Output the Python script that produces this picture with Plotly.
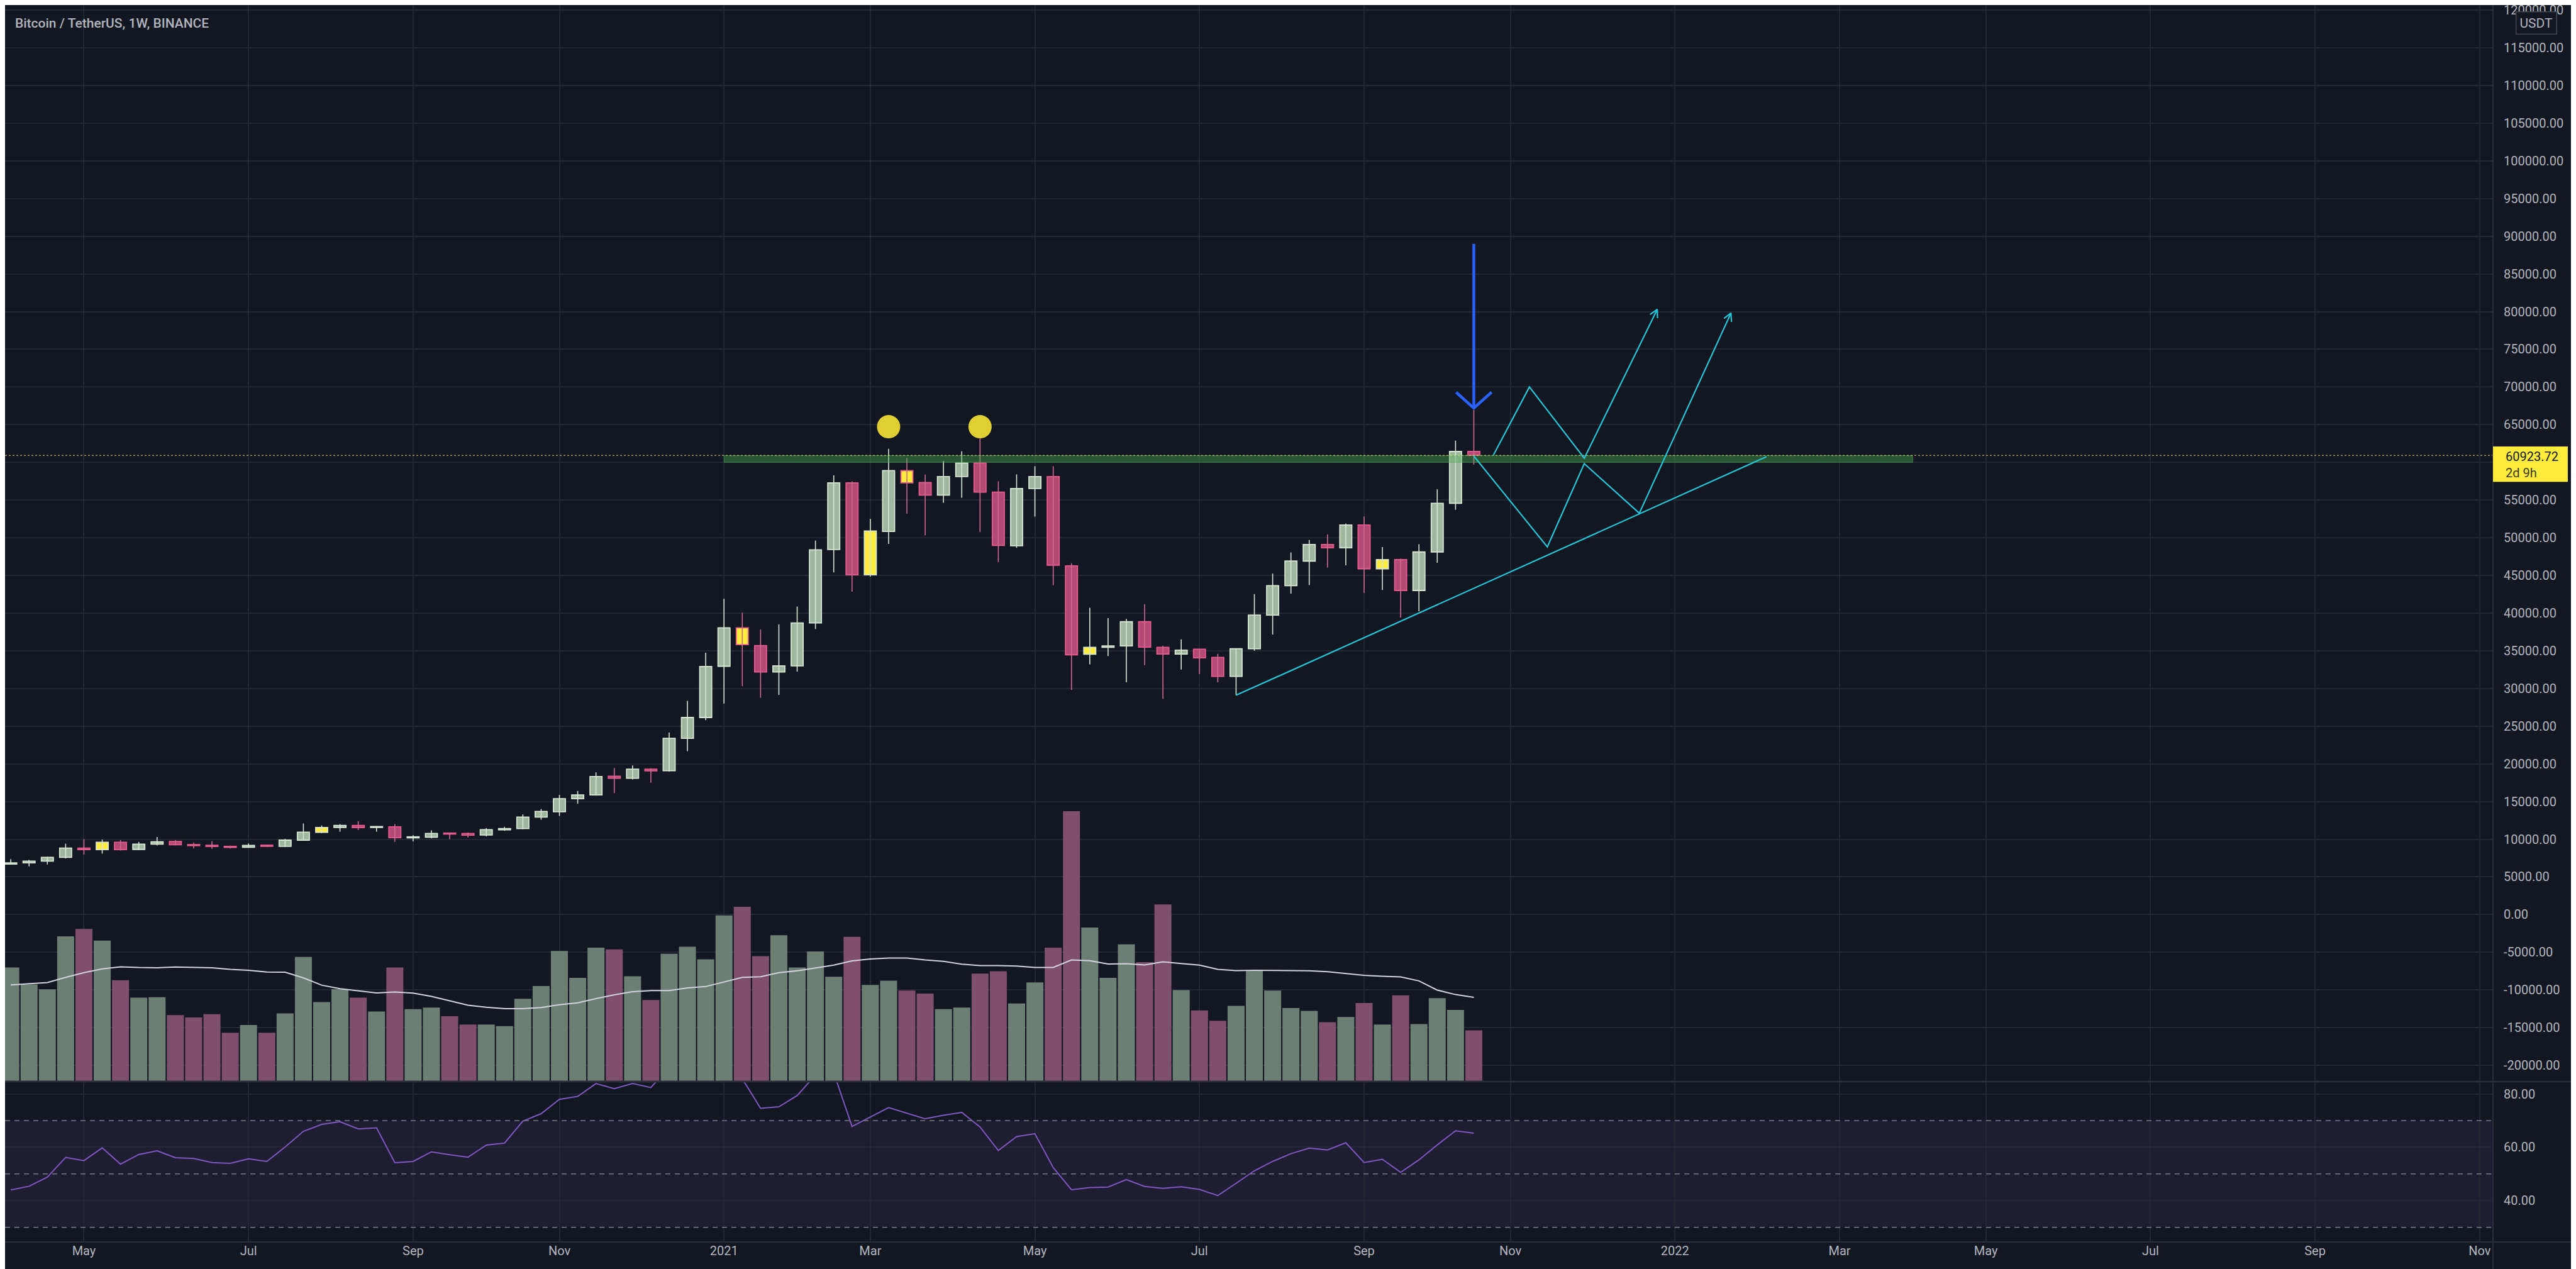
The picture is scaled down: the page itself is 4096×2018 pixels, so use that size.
import math
import pandas as pd
import plotly.graph_objects as go

# ---------------- data ----------------
first_week = "2020-04-06"          # Monday of the first visible weekly candle
opens = [6700, 6870, 7090, 7600, 8820, 8620, 9590, 8650, 9350, 9700,
         9290, 9200, 9060, 8940, 9210, 9060, 9880, 10910, 11560, 11820,
         11560, 11650, 10180, 10270, 10820, 10770, 10560, 11240, 11410, 12940,
         13650, 15380, 15880, 18350, 18090, 19290, 19080, 23390, 26150,
         32950, 38050, 35690, 32180, 33000, 38690, 48430, 57280, 45080, 50830,
         58910, 57320, 55650, 58120, 59900, 56040, 48940, 56520, 58120, 46260,
         34540, 35460, 35650, 38850, 35460, 34570, 35210, 34120, 31600, 35270,
         39740, 43640, 46900, 49110, 48660, 51690, 45880, 47090, 43000, 48110,
         54570, 61440]
highs = [7350, 7240, 7680, 9410, 10000, 9940, 9880, 9650, 10290, 9880,
         9560, 9740, 9150, 9410, 9290, 10060, 12090, 11820, 12000, 12410,
         11740, 12000, 10530, 11180, 10820, 10880, 11470, 11650, 13290, 14000,
         15880, 16410, 18880, 19440, 19790, 19420, 24160, 28360, 34740,
         41900, 40050, 37820, 38510, 40870, 49620, 58280, 57480, 52490, 61790,
         60580, 58400, 60160, 61470, 64730, 57480, 58400, 59490, 59490, 46610,
         40700, 39330, 39230, 41180, 35650, 36520, 35210, 34600, 35270, 42520,
         45240, 48050, 49710, 50450, 51890, 52810, 48750, 47220, 49140, 56420,
         62880, 66970]
lows = [6620, 6400, 6650, 7450, 7970, 8090, 8500, 8560, 9180, 9200,
        8770, 8730, 8770, 8880, 8970, 8970, 9790, 10820, 11000, 11240,
        11000, 9650, 9710, 10120, 10000, 10240, 10380, 11120, 11320, 12590,
        13090, 14710, 15790, 16120, 17940, 17500, 18980, 21690, 25800,
        28000, 30310, 28770, 29150, 32230, 37890, 45400, 42840, 44860, 49170,
        53200, 50320, 54630, 55300, 50770, 46770, 48660, 52810, 43700, 29810,
        33190, 34310, 30830, 33100, 28630, 32520, 31920, 30830, 29100, 35010,
        37160, 42590, 43710, 46040, 46330, 42680, 43070, 39420, 40250, 46680,
        53710, 59710]
closes = [6870, 7090, 7600, 8820, 8620, 9590, 8620, 9350, 9650, 9270,
          9150, 9030, 8910, 9180, 9060, 9880, 10940, 11560, 11820, 11530,
          11680, 10210, 10320, 10770, 10680, 10530, 11270, 11410, 12940, 13680,
          15380, 15880, 18320, 18090, 19290, 19060, 23390, 26150, 32920,
          38050, 35820, 32180, 33000, 38690, 48400, 57280, 45080, 50890, 58910,
          57280, 55650, 58120, 59900, 56040, 48980, 56520, 58120, 46360, 34470,
          35460, 35650, 38850, 35490, 34570, 35080, 34060, 31600, 35270, 39740,
          43640, 46900, 49110, 48660, 51690, 45880, 47090, 43000, 48110, 54570,
          61440, 60923.72]
volume_kbtc = [482, 410, 389, 614, 646, 596, 428, 354, 356, 280,
               270, 284, 205, 238, 205, 287, 527, 335, 390, 354,
               295, 482, 305, 312, 275, 240, 240, 233, 349, 403,
               552, 438, 566, 559, 445, 344, 540, 570, 517,
               703, 740, 530, 619, 482, 550, 443, 612, 408, 426,
               384, 371, 305, 312, 456, 466, 329, 419, 566, 1146,
               652, 438, 580, 505, 750, 386, 300, 256, 319, 470,
               384, 310, 298, 250, 272, 331, 240, 364, 242, 352,
               302, 215]
volume_ma_kbtc = [408, 412, 418, 440, 460, 476, 485, 482, 481, 484,
                  482, 481, 474, 470, 463, 462, 438, 407, 392, 383,
                  374, 378, 373, 359, 341, 322, 313, 307, 307, 312,
                  324, 332, 350, 366, 379, 384, 384, 395, 401,
                  420, 440, 443, 460, 468, 481, 492, 510, 518, 522,
                  522, 514, 508, 496, 490, 490, 488, 482, 482, 514,
                  511, 497, 498, 493, 506, 499, 492, 474, 469, 470,
                  470, 468, 468, 464, 456, 449, 445, 442, 425, 386,
                  367, 355]
rsi_values = [44.0, 45.4, 48.8, 56.2, 55.0, 59.8, 53.7, 57.3, 58.7, 56.1,
              55.8, 54.3, 54.0, 55.7, 54.7, 60.1, 66.0, 68.6, 69.6, 66.9,
              67.3, 54.2, 54.7, 58.3, 57.2, 56.3, 60.8, 61.6, 69.8, 72.6,
              78.0, 79.1, 83.9, 82.0, 83.9, 82.4, 90.0, 91.5, 93.5,
              94.0, 85.7, 74.6, 75.2, 79.4, 87.1, 88.0, 67.8, 71.4, 74.9,
              72.8, 70.7, 72.0, 73.1, 67.6, 58.8, 64.0, 65.1, 52.4, 44.1,
              44.9, 45.1, 47.9, 45.3, 44.6, 45.2, 44.2, 41.9, 46.5, 51.2,
              54.7, 57.6, 59.7, 59.0, 61.7, 54.3, 55.5, 50.6, 55.3, 60.9,
              66.2, 65.3]
yellow_weeks = ["2020-05-11", "2020-08-03", "2021-01-11", "2021-03-01",
                "2021-03-15", "2021-05-24", "2021-09-13"]
last_price = 60923.72
time_left_text = "2d 9h"
title_text = "Bitcoin / TetherUS, 1W, BINANCE"
currency_text = "USDT"

month_tick_dates = ["2020-05-04", "2020-07-06", "2020-09-07", "2020-11-02",
                    "2021-01-04", "2021-03-01", "2021-05-03", "2021-07-05",
                    "2021-09-06", "2021-11-01", "2022-01-03", "2022-03-07",
                    "2022-05-02", "2022-07-04", "2022-09-05", "2022-11-07"]
month_tick_labels = ["May", "Jul", "Sep", "Nov", "2021", "Mar", "May", "Jul",
                     "Sep", "Nov", "2022", "Mar", "May", "Jul", "Sep", "Nov"]
price_tick_values = list(range(-20000, 125000, 5000))
rsi_tick_values = [40, 60, 80]
rsi_levels = [70, 50, 30]

# drawings (week offsets from 2021-01-04, prices)
ref_week = "2021-01-04"
band_weeks = [0, 65]
band_prices = [60000, 60900]
circle_weeks = [9, 14]
circle_prices = [64730, 64730]
trend_weeks = [28, 57]
trend_prices = [29100, 60750]
path_a_weeks = [42.07, 44.04, 47.04, 51.03]
path_a_prices = [60956, 70000, 60540, 80300]
path_b_weeks = [41.0, 45.02, 47.04, 50.05, 55.06]
path_b_prices = [60830, 48790, 59830, 53250, 79800]
blue_arrow_week = 41
blue_arrow_prices = [89000, 67200]
blue_head_half_weeks = 0.97
blue_head_height = 2100

# ---------------- geometry (target pixels) ----------------
W, H = 4096, 2018
plot_right = 3956
plot_bottom = 1967
main_bottom = 1711
rsi_top = 1713
price_range = [-22075, 120676]
rsi_range = [24.5, 84.4]
vol_range = [0, 4570]
days_left, days_right = 275.2, 677.1

BG = "#131722"
GRID = "#232733"
BORDER = "#2a2e39"
TXT = "#b2b5be"
FONT = "Roboto, 'Noto Sans', sans-serif"
UP_FILL, UP_LINE = "#9fb69f", "#d5e6d5"
DN_FILL, DN_LINE = "#b24a73", "#e85a8c"
DN_WICK = "#cf6b90"
YEL = "#ffeb3b"
VOL_UP, VOL_DN = "#6b7f74", "#7f4f6b"
CYAN = "#26c6da"

ref = pd.Timestamp(ref_week)
dates = pd.date_range(first_week, periods=len(opens), freq="7D")
DAY_MS = 86400000


def wk(w):
    return ref + pd.Timedelta(days=7 * w)


x_left = ref - pd.Timedelta(days=days_left)
x_right = ref + pd.Timedelta(days=days_right)
px_per_day = plot_right / (days_left + days_right)
px_per_usd = main_bottom / (price_range[1] - price_range[0])

fig = go.Figure()

# volume + MA (overlay axis)
vol_colors = [VOL_UP if c >= o else VOL_DN for o, c in zip(opens, closes)]
fig.add_trace(go.Bar(x=dates, y=volume_kbtc, width=6.5 * DAY_MS,
                     marker=dict(color=vol_colors, line=dict(width=0)),
                     xaxis="x", yaxis="y3", hoverinfo="skip"))
fig.add_trace(go.Scatter(x=dates, y=volume_ma_kbtc, mode="lines",
                         line=dict(color="#d1d4dc", width=2),
                         xaxis="x", yaxis="y3", hoverinfo="skip"))

# wicks
up_x, up_y, dn_x, dn_y = [], [], [], []
for d, o, h, l, c in zip(dates, opens, highs, lows, closes):
    if c >= o:
        up_x += [d, d, None]; up_y += [l, h, None]
    else:
        dn_x += [d, d, None]; dn_y += [l, h, None]
fig.add_trace(go.Scatter(x=up_x, y=up_y, mode="lines",
                         line=dict(color=UP_LINE, width=1.6), hoverinfo="skip"))
fig.add_trace(go.Scatter(x=dn_x, y=dn_y, mode="lines",
                         line=dict(color=DN_WICK, width=1.6), hoverinfo="skip"))

# bodies
ys = set(pd.to_datetime(yellow_weeks))
fills, lines_c, bases, heights = [], [], [], []
for d, o, c in zip(dates, opens, closes):
    up = c >= o
    fill = UP_FILL if up else DN_FILL
    if d in ys:
        fill = YEL
    fills.append(fill)
    lines_c.append(UP_LINE if up else DN_LINE)
    bases.append(min(o, c))
    heights.append(max(abs(c - o), 60))
fig.add_trace(go.Bar(x=dates, y=heights, base=bases, width=4.6 * DAY_MS,
                     marker=dict(color=fills, line=dict(color=lines_c, width=1.8)),
                     hoverinfo="skip"))

# green band
b0, b1 = wk(band_weeks[0]), wk(band_weeks[1])
fig.add_trace(go.Scatter(x=[b0, b1, b1, b0, b0],
                         y=[band_prices[0], band_prices[0], band_prices[1], band_prices[1], band_prices[0]],
                         mode="lines", fill="toself", fillcolor="rgba(76,175,80,0.42)",
                         line=dict(color="rgba(76,175,80,0.55)", width=1), hoverinfo="skip"))

# last-price dotted line
fig.add_trace(go.Scatter(x=[x_left, x_right], y=[last_price, last_price], mode="lines",
                         line=dict(color="rgba(240,225,120,0.6)", width=1.5, dash="dot"),
                         hoverinfo="skip"))

# cyan drawings
for wks, prs in [(trend_weeks, trend_prices), (path_a_weeks, path_a_prices),
                 (path_b_weeks, path_b_prices)]:
    fig.add_trace(go.Scatter(x=[wk(w) for w in wks], y=prs, mode="lines",
                             line=dict(color=CYAN, width=2.2), hoverinfo="skip"))


def chevron(w0, p0, w1, p1, length=14, ang=28):
    dx = (w1 - w0) * 7 * px_per_day
    dy = (p1 - p0) * px_per_usd
    L = math.hypot(dx, dy)
    ux, uy = dx / L, dy / L
    xs, yv = [], []
    for s in (1, -1):
        a = math.radians(180 + s * ang)
        rx = ux * math.cos(a) - uy * math.sin(a)
        ry = ux * math.sin(a) + uy * math.cos(a)
        xs.append(wk(w1 + rx * length / px_per_day / 7))
        yv.append(p1 + ry * length / px_per_usd)
    return [xs[0], wk(w1), xs[1]], [yv[0], p1, yv[1]]


for wks, prs in [(path_a_weeks, path_a_prices), (path_b_weeks, path_b_prices)]:
    cx, cy = chevron(wks[-2], prs[-2], wks[-1], prs[-1])
    fig.add_trace(go.Scatter(x=cx, y=cy, mode="lines",
                             line=dict(color=CYAN, width=2.2), hoverinfo="skip"))

# blue arrow
bw = blue_arrow_week
fig.add_trace(go.Scatter(x=[wk(bw), wk(bw)], y=blue_arrow_prices, mode="lines",
                         line=dict(color="#2962ff", width=4.5), hoverinfo="skip"))
tip = blue_arrow_prices[1]
fig.add_trace(go.Scatter(x=[wk(bw - blue_head_half_weeks), wk(bw), wk(bw + blue_head_half_weeks)],
                         y=[tip + blue_head_height, tip, tip + blue_head_height], mode="lines",
                         line=dict(color="#2962ff", width=4.5), hoverinfo="skip"))

# yellow circles
fig.add_trace(go.Scatter(x=[wk(w) for w in circle_weeks], y=circle_prices, mode="markers",
                         marker=dict(size=37, color="#e0cf33", line=dict(width=0)),
                         hoverinfo="skip"))

# RSI
fig.add_trace(go.Scatter(x=dates, y=rsi_values, mode="lines",
                         line=dict(color="#7e57c2", width=2),
                         xaxis="x2", yaxis="y2", hoverinfo="skip"))

# ---------------- layout ----------------
main_dom = [(plot_bottom - main_bottom) / plot_bottom, 1]
rsi_dom = [0, (plot_bottom - rsi_top) / plot_bottom]
tickfont = dict(family=FONT, size=20, color=TXT)

shapes = []
# RSI band + levels
shapes.append(dict(type="rect", xref="x2 domain", yref="y2", x0=0, x1=1, y0=30, y1=70,
                   fillcolor="rgba(126,87,194,0.1)", line=dict(width=0), layer="below"))
for lv in rsi_levels:
    shapes.append(dict(type="line", xref="x2 domain", yref="y2", x0=0, x1=1, y0=lv, y1=lv,
                       line=dict(color="#787b86", width=1.5, dash="8px,7px")))
# separators / borders
xr = W / plot_right
sep_y = (plot_bottom - (main_bottom + 1)) / plot_bottom
shapes.append(dict(type="line", xref="paper", yref="paper", x0=0, x1=xr, y0=sep_y, y1=sep_y,
                   line=dict(color=BORDER, width=3)))
shapes.append(dict(type="line", xref="paper", yref="paper", x0=0, x1=xr, y0=0, y1=0,
                   line=dict(color=BORDER, width=2)))
shapes.append(dict(type="line", xref="paper", yref="paper", x0=1, x1=1,
                   y0=-(H - plot_bottom) / plot_bottom, y1=1,
                   line=dict(color=BORDER, width=2)))
# price label box
shapes.append(dict(type="rect", xref="paper", yref="y", x0=1.0, x1=4075 / plot_right,
                   y0=last_price - 3505, y1=last_price + 1184,
                   fillcolor=YEL, line=dict(width=0), layer="above"))

annotations = [
    dict(text=title_text, xref="paper", yref="paper", x=14 / plot_right,
         y=1 - 29.5 / plot_bottom, xanchor="left", yanchor="middle", showarrow=False,
         font=dict(family=FONT, size=21, color=TXT, weight=500)),
    dict(text=currency_text, xref="paper", yref="paper", x=4025 / plot_right,
         y=1 - 28.6 / plot_bottom, xanchor="center", yanchor="middle", showarrow=False,
         bgcolor=BG, bordercolor="#434651", borderwidth=1.5, borderpad=5,
         font=dict(family=FONT, size=21, color=TXT)),
    dict(text=f"{last_price:.2f}", xref="paper", yref="y", x=3974 / plot_right, y=last_price,
         yshift=-2, xanchor="left", yanchor="middle", showarrow=False,
         font=dict(family=FONT, size=20, color="#131722")),
    dict(text=time_left_text, xref="paper", yref="y", x=3974 / plot_right, y=last_price,
         yshift=-28, xanchor="left", yanchor="middle", showarrow=False,
         font=dict(family=FONT, size=20, color="#3b3920")),
]

price_tick_text = ["" if v == 60000 else f"{v:.2f}" for v in price_tick_values]

fig.update_layout(
    width=W, height=H,
    margin=dict(l=0, r=W - plot_right, t=0, b=H - plot_bottom, pad=0),
    paper_bgcolor=BG, plot_bgcolor=BG,
    showlegend=False, hovermode=False, barmode="overlay",
    font=dict(family=FONT, color=TXT),
    xaxis=dict(type="date", range=[x_left, x_right], domain=[0, 1], anchor="y",
               tickvals=month_tick_dates, ticktext=month_tick_labels, showticklabels=False,
               showgrid=True, gridcolor=GRID, gridwidth=1.5, zeroline=False, showline=False,
               ticks="", automargin=False),
    xaxis2=dict(type="date", range=[x_left, x_right], domain=[0, 1], anchor="y2", matches="x",
                tickvals=month_tick_dates, ticktext=month_tick_labels, showticklabels=True,
                tickfont=tickfont, ticklabelstandoff=0, tickangle=0,
                ticklabeloverflow="allow",
                showgrid=True, gridcolor=GRID, gridwidth=1.5, zeroline=False, showline=False,
                ticks="", automargin=False),
    yaxis=dict(domain=main_dom, anchor="x", side="right", range=price_range,
               tickvals=price_tick_values, ticktext=price_tick_text, tickfont=tickfont,
               ticklabelstandoff=16, ticklabeloverflow="allow",
               showgrid=True, gridcolor=GRID, gridwidth=1.5,
               zeroline=False, showline=False, ticks="", automargin=False),
    yaxis3=dict(overlaying="y", anchor="x", side="right", range=vol_range, visible=False,
                showgrid=False, zeroline=False),
    yaxis2=dict(domain=rsi_dom, anchor="x2", side="right", range=rsi_range,
                tickvals=rsi_tick_values, tickformat=".2f", tickfont=tickfont,
                ticklabelstandoff=16, showgrid=True, gridcolor=GRID, gridwidth=1.5,
                zeroline=False, showline=False, ticks="", automargin=False),
    shapes=shapes, annotations=annotations,
)

fig.write_html("out.html", config={"displayModeBar": False})
